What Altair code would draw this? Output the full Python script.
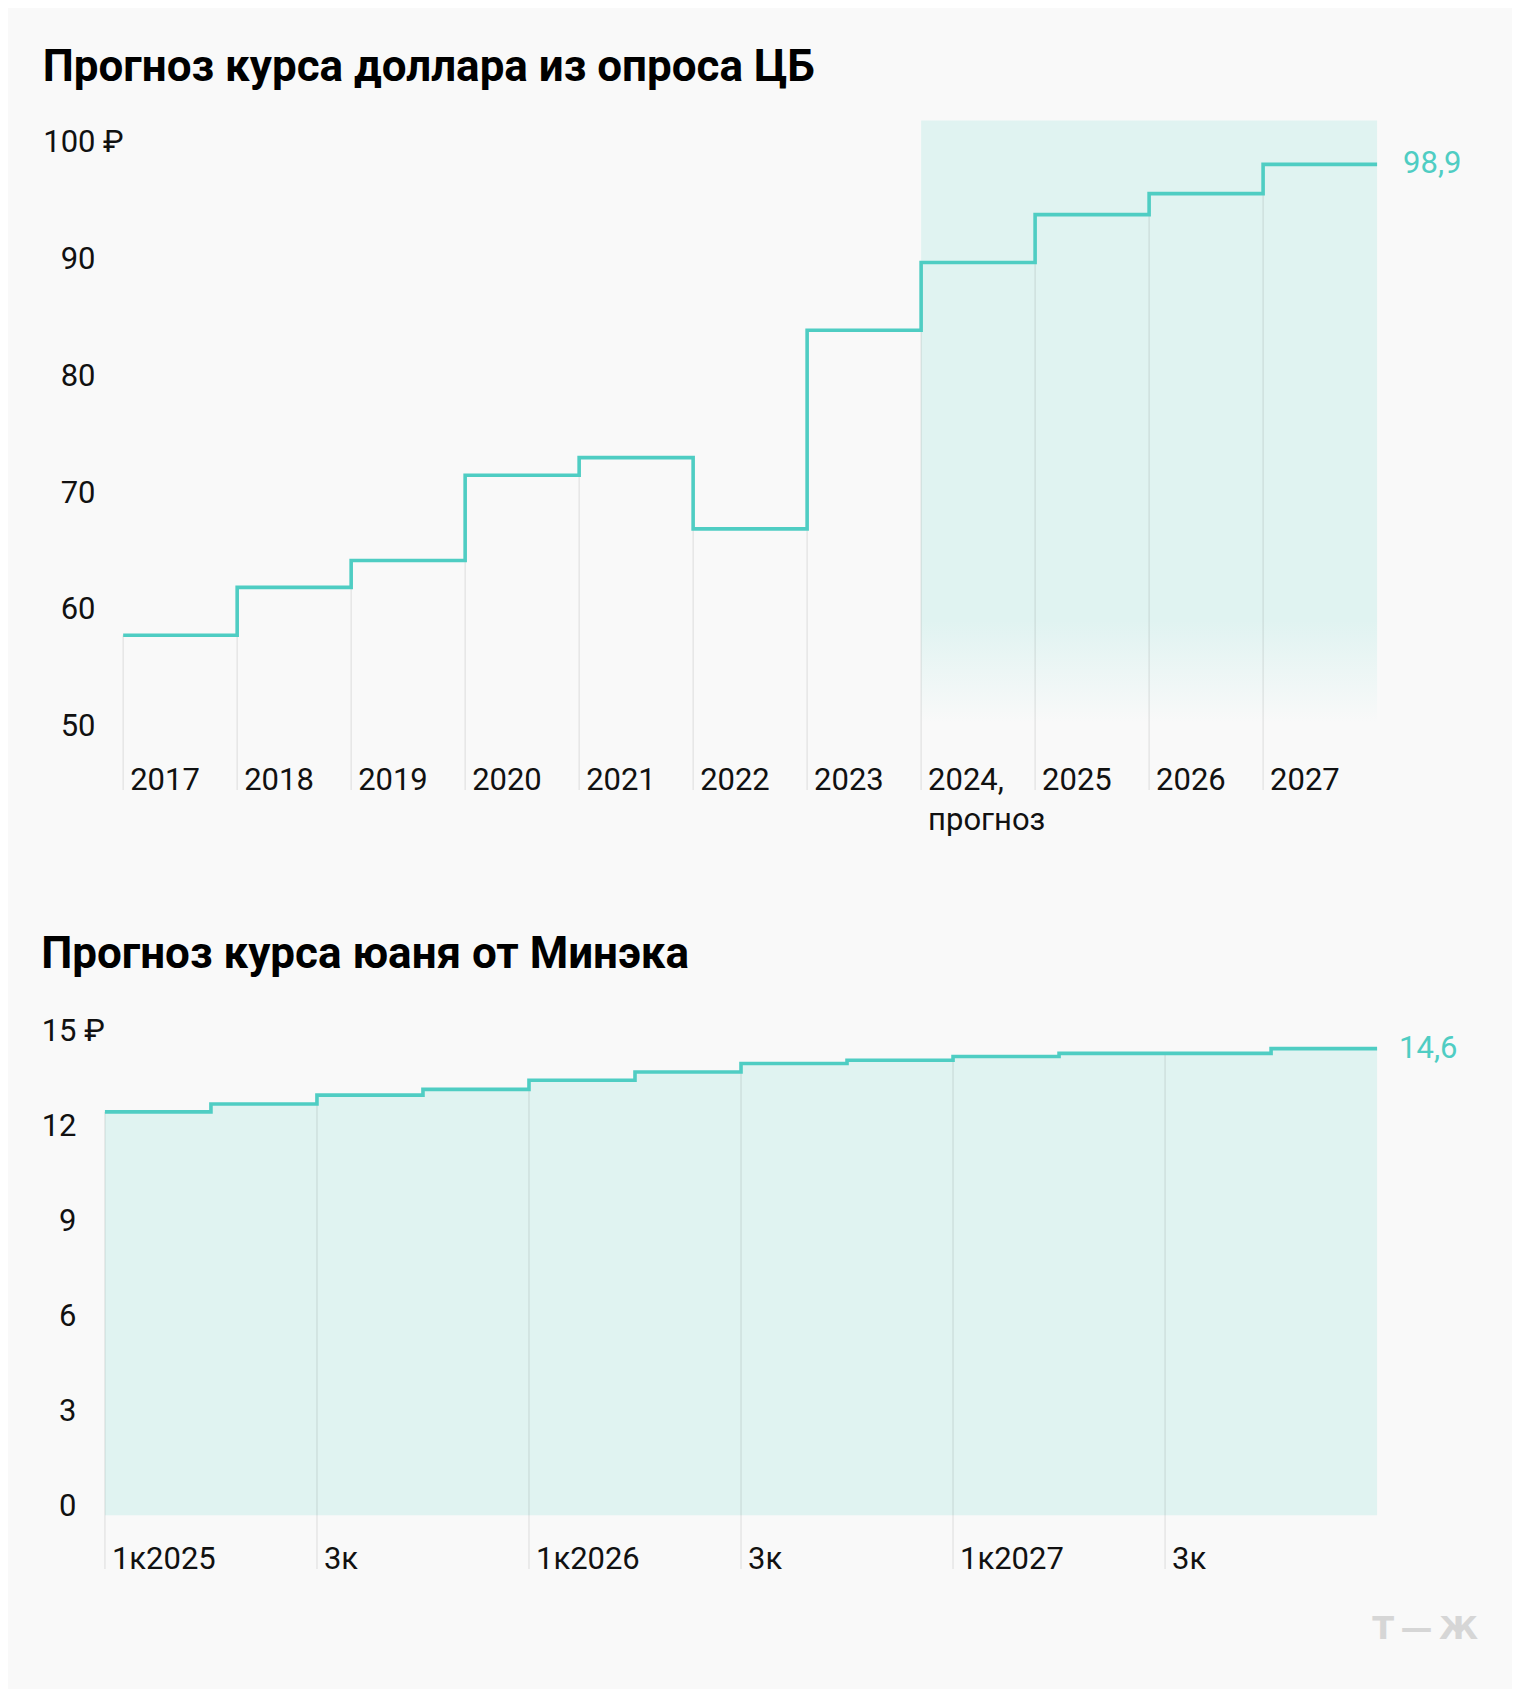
import altair as alt
import pandas as pd

# ---------------- data ----------------
usd_years = ["2017", "2018", "2019", "2020", "2021", "2022", "2023",
             "2024,\nпрогноз", "2025", "2026", "2027"]
usd_values = [58.6, 62.7, 65.0, 72.3, 73.8, 67.7, 84.7, 90.5, 94.6, 96.4, 98.9]
usd_forecast_start = 7
usd_ticks = [50, 60, 70, 80, 90, 100]
usd_last_label = "98,9"

cny_quarters = ["1к2025", "2к2025", "3к2025", "4к2025",
                "1к2026", "2к2026", "3к2026", "4к2026",
                "1к2027", "2к2027", "3к2027", "4к2027"]
cny_values = [12.75, 13.0, 13.28, 13.46, 13.75, 14.01, 14.28, 14.38, 14.5, 14.6, 14.6, 14.75]
cny_axis_labels = ["1к2025", "", "3к", "", "1к2026", "", "3к", "", "1к2027", "", "3к", ""]
cny_ticks = [0, 3, 6, 9, 12, 15]
cny_last_label = "14,6"

TITLE_USD = "Прогноз курса доллара из опроса ЦБ"
TITLE_CNY = "Прогноз курса юаня от Минэка"

# ---------------- style ----------------
TEAL = "#4fcdc3"
SHADE = "#e0f3f1"
BG = "#f9f9f9"
FONT = "Roboto"
LABEL_SIZE = 31

n_usd = len(usd_values)
n_cny = len(cny_values)

USD_X0 = -0.16          # small left margin inside the top panel
USD_YMIN, USD_YMAX = 45.35, 102.66
USD_FADE_END = 51.1
CNY_YMIN, CNY_YMAX = -1.7, 15.8

usd_df = pd.DataFrame({"i": list(range(n_usd)), "label": usd_years, "v": usd_values})
usd_step = pd.DataFrame({"i": list(range(n_usd)) + [n_usd],
                         "v": usd_values + [usd_values[-1]]})
usd_end = pd.DataFrame({"i": [n_usd], "v": [usd_values[-1]], "t": [usd_last_label]})
usd_shade = pd.DataFrame({"a": [usd_forecast_start], "b": [n_usd]})

cny_df = pd.DataFrame({"i": list(range(n_cny)), "label": cny_axis_labels, "v": cny_values})
cny_step = pd.DataFrame({"i": list(range(n_cny)) + [n_cny],
                         "v": cny_values + [cny_values[-1]]})
cny_end = pd.DataFrame({"i": [n_cny], "v": [cny_values[-1]], "t": [cny_last_label]})
cny_grid = cny_df[cny_df["label"] != ""]


def y_axis(ticks, pad):
    return alt.Axis(values=ticks, domain=False, ticks=False, grid=False, title=None,
                    labelAlign="right", labelBaseline="alphabetic", labelPadding=pad,
                    labelFontSize=LABEL_SIZE, labelFont=FONT, labelColor="#111111")


# ---------------- top chart ----------------
ux = alt.Scale(domain=[USD_X0, n_usd], nice=False, zero=False)
uy = alt.Scale(domain=[USD_YMIN, USD_YMAX], nice=False, zero=False)

shade = alt.Chart(usd_shade).mark_rect(
    color=alt.Gradient(gradient="linear", x1=0, y1=0, x2=0, y2=1,
                       stops=[alt.GradientStop(offset=0, color=SHADE),
                              alt.GradientStop(offset=0.83, color=SHADE),
                              alt.GradientStop(offset=1, color=BG)])
).encode(
    x=alt.X("a:Q", scale=ux, axis=None), x2="b:Q",
    y=alt.datum(USD_YMAX, scale=uy), y2=alt.datum(USD_FADE_END),
)

u_grid = alt.Chart(usd_df).mark_rule(color="#000000", strokeOpacity=0.09, strokeWidth=1.3).encode(
    x=alt.X("i:Q", scale=ux, axis=None),
    y=alt.Y("v:Q", scale=uy, axis=y_axis(usd_ticks, 10)),
    y2=alt.datum(USD_YMIN),
)

u_line = alt.Chart(usd_step).mark_line(interpolate="step-after", color=TEAL,
                                       strokeWidth=3.6, strokeJoin="miter", strokeCap="butt").encode(
    x=alt.X("i:Q", scale=ux, axis=None),
    y=alt.Y("v:Q", scale=uy),
)

u_xlab = alt.Chart(usd_df).mark_text(align="left", baseline="alphabetic", dx=7,
                                     fontSize=LABEL_SIZE, font=FONT, color="#111111",
                                     lineBreak="\n", lineHeight=40).encode(
    x=alt.X("i:Q", scale=ux, axis=None),
    y=alt.datum(USD_YMIN),
    text="label:N",
)

u_end = alt.Chart(usd_end).mark_text(align="left", baseline="middle", dx=26,
                                     fontSize=LABEL_SIZE, font=FONT, color=TEAL).encode(
    x=alt.X("i:Q", scale=ux, axis=None), y=alt.Y("v:Q", scale=uy), text="t:N",
)

u_rub = alt.Chart(usd_end).mark_text(align="left", baseline="alphabetic",
                                     fontSize=LABEL_SIZE, font=FONT, color="#111111").encode(
    x=alt.value(-2), y=alt.datum(usd_ticks[-1]), text=alt.value("₽"),
)

top = alt.layer(shade, u_grid, u_line, u_xlab, u_end, u_rub).properties(
    width=1273, height=670,
    title=alt.TitleParams(TITLE_USD, anchor="start", frame="bounds", baseline="alphabetic",
                          offset=-4, fontSize=44, font=FONT, fontWeight="bold", color="#000000"),
)

# ---------------- bottom chart ----------------
cx = alt.Scale(domain=[0, n_cny], nice=False, zero=False)
cy = alt.Scale(domain=[CNY_YMIN, CNY_YMAX], nice=False, zero=False)

c_area = alt.Chart(cny_step).mark_area(interpolate="step-after", color=SHADE).encode(
    x=alt.X("i:Q", scale=cx, axis=None),
    y=alt.Y("v:Q", scale=cy, axis=y_axis(cny_ticks, 29)),
    y2=alt.datum(0),
)

c_grid = alt.Chart(cny_grid).mark_rule(color="#000000", strokeOpacity=0.09, strokeWidth=1.3).encode(
    x=alt.X("i:Q", scale=cx, axis=None),
    y=alt.Y("v:Q", scale=cy),
    y2=alt.datum(CNY_YMIN),
)

c_line = alt.Chart(cny_step).mark_line(interpolate="step-after", color=TEAL,
                                       strokeWidth=3.6, strokeJoin="miter", strokeCap="butt").encode(
    x=alt.X("i:Q", scale=cx, axis=None),
    y=alt.Y("v:Q", scale=cy),
)

c_xlab = alt.Chart(cny_grid).mark_text(align="left", baseline="alphabetic", dx=7,
                                       fontSize=LABEL_SIZE, font=FONT, color="#111111").encode(
    x=alt.X("i:Q", scale=cx, axis=None),
    y=alt.datum(CNY_YMIN),
    text="label:N",
)

c_end = alt.Chart(cny_end).mark_text(align="left", baseline="middle", dx=22,
                                     fontSize=LABEL_SIZE, font=FONT, color=TEAL).encode(
    x=alt.X("i:Q", scale=cx, axis=None), y=alt.Y("v:Q", scale=cy), text="t:N",
)

c_rub = alt.Chart(cny_end).mark_text(align="left", baseline="alphabetic",
                                     fontSize=LABEL_SIZE, font=FONT, color="#111111").encode(
    x=alt.value(-20.6), y=alt.datum(cny_ticks[-1]), text=alt.value("₽"),
)

c_logo = alt.Chart(cny_end).mark_text(align="right", baseline="middle", fontSize=32,
                                      font="DejaVu Sans", fontWeight="bold", color="#d6d6d6").encode(
    x=alt.value(1374), y=alt.value(614), text=alt.value("Т\u2009—\u2009Ж"),
)

bottom = alt.layer(c_area, c_grid, c_line, c_xlab, c_end, c_rub, c_logo).properties(
    width=1273, height=554,
    title=alt.TitleParams(TITLE_CNY, anchor="start", frame="bounds", baseline="alphabetic",
                          offset=3, fontSize=44, font=FONT, fontWeight="bold", color="#000000"),
)

chart = alt.vconcat(top, bottom, spacing=97.5).properties(
    background=BG,
    padding={"left": 33, "top": 37, "right": 34, "bottom": 43},
).configure_view(stroke=None).configure_text(font=FONT)

chart.save("out.html", embed_options={"renderer": "svg", "actions": False})
